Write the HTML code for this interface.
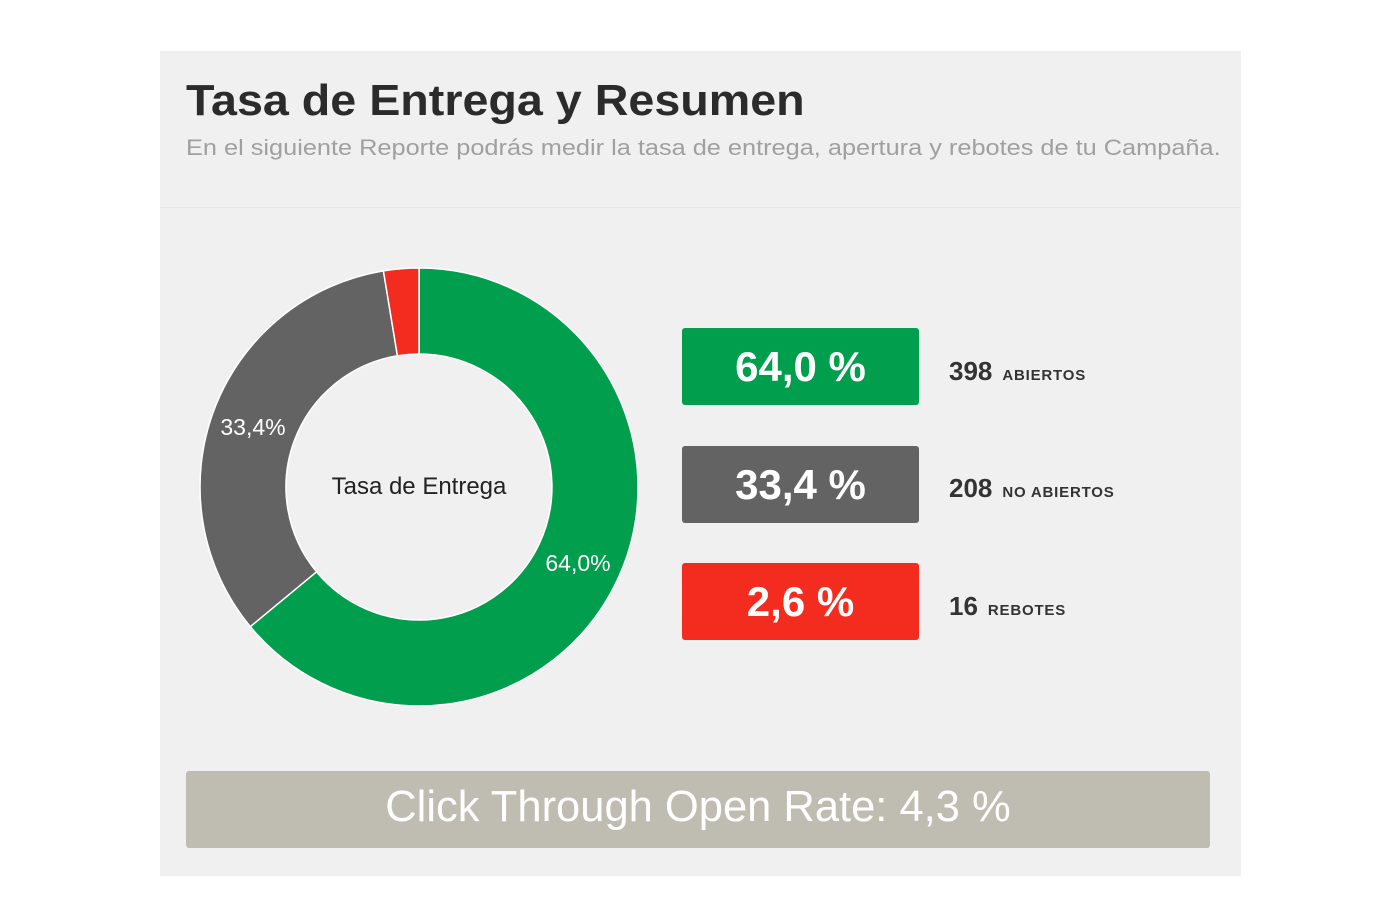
<!DOCTYPE html>
<html><head><meta charset="utf-8"><style>
body{margin:0;background:#fff;width:1400px;height:917px;position:relative;font-family:"Liberation Sans",sans-serif;overflow:hidden}
.panel{position:absolute;left:160px;top:51px;width:1081px;height:825px;background:#f0f0f0}
.abs{position:absolute}
.box{position:absolute;left:682px;width:237px;height:77px;border-radius:3px;color:#fff;font-weight:bold;font-size:42px;text-align:center;line-height:77px}
.lab{position:absolute;left:949px;font-weight:bold;color:#333;font-size:26px}
.lab small{font-size:15px;margin-left:10px;letter-spacing:0.8px}
</style></head><body>
<div class="panel"></div>
<div class="abs" style="left:186px;top:76px;font-size:44px;font-weight:bold;color:#2b2b2b;white-space:nowrap;transform-origin:0 0;transform:scaleX(1.06)">Tasa de Entrega y Resumen</div>
<div class="abs" style="left:186px;top:135px;font-size:22px;color:#a0a0a0;white-space:nowrap;transform-origin:0 0;transform:scaleX(1.151)">En el siguiente Reporte podrás medir la tasa de entrega, apertura y rebotes de tu Campaña.</div>
<div class="abs" style="left:160px;top:207px;width:1081px;height:1px;background:#e6e6e6"></div>
<svg class="abs" style="left:0;top:0" width="1400" height="917">
<path d="M419,268 A219,219 0 1 1 250.3,626.6 L316.5,571.8 A133,133 0 1 0 419,354 Z" fill="#009e4d" stroke="#fff" stroke-width="1.5"/>
<path d="M250.3,626.6 A219,219 0 0 1 383.4,270.9 L397.4,355.8 A133,133 0 0 0 316.5,571.8 Z" fill="#636363" stroke="#fff" stroke-width="1.5"/>
<path d="M383.4,270.9 A219,219 0 0 1 419,268 L419,354 A133,133 0 0 0 397.4,355.8 Z" fill="#f42c20" stroke="#fff" stroke-width="1.5"/>
<text x="419" y="494" text-anchor="middle" font-size="24" fill="#222" font-family="Liberation Sans">Tasa de Entrega</text>
<text x="253" y="435" text-anchor="middle" font-size="23" fill="#fff" font-family="Liberation Sans">33,4%</text>
<text x="578" y="571" text-anchor="middle" font-size="23" fill="#fff" font-family="Liberation Sans">64,0%</text>
</svg>
<div class="box" style="top:328px;background:#009e4d">64,0 %</div>
<div class="box" style="top:446px;background:#636363">33,4 %</div>
<div class="box" style="top:563px;background:#f42c20">2,6 %</div>
<div class="lab" style="top:356px">398<small>ABIERTOS</small></div>
<div class="lab" style="top:473px">208<small>NO ABIERTOS</small></div>
<div class="lab" style="top:591px">16<small>REBOTES</small></div>
<div class="abs" style="left:186px;top:771px;width:1024px;height:77px;background:#bfbdb2;border-radius:3px;color:#fff;font-size:43.5px;text-align:center;line-height:72px">Click Through Open Rate: 4,3 %</div>
</body></html>
